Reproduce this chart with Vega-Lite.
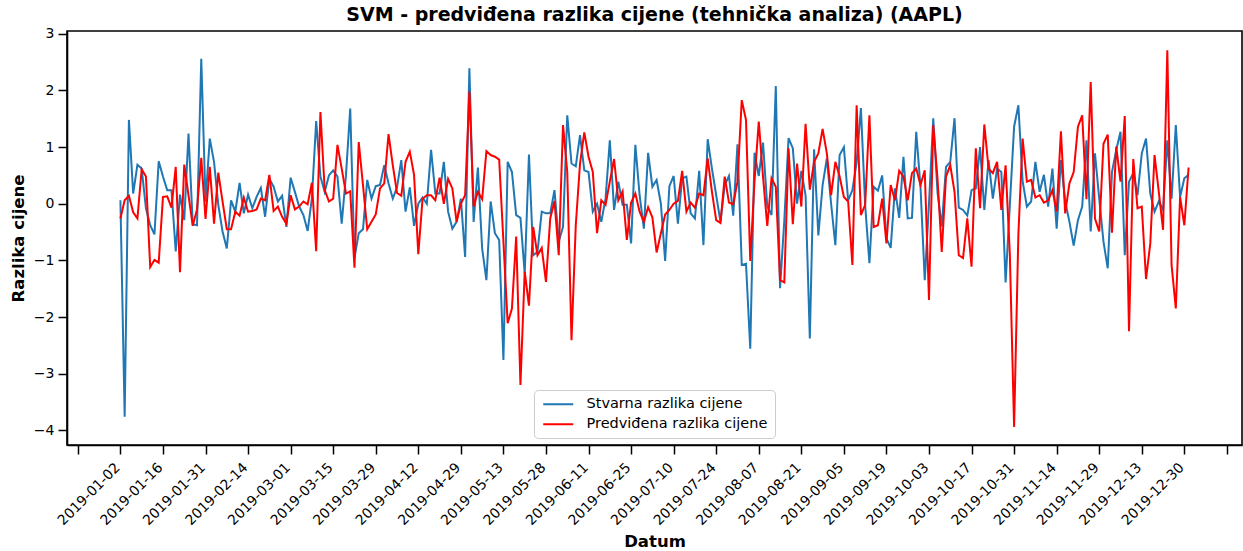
{
"$schema": "https://vega.github.io/schema/vega-lite/v6.json",
"width": 1175, "height": 414,
"autosize": {"type": "none"},
"padding": {"left": 67, "top": 31, "right": 1, "bottom": 106},
"background": "white",
"title": {"text": "SVM - predviđena razlika cijene (tehnička analiza) (AAPL)", "fontSize": 19, "fontWeight": "bold", "font": "DejaVu Sans", "color": "black", "anchor": "middle", "offset": 2},
"config": {
  "view": {"stroke": "black", "strokeWidth": 1.6},
  "axis": {"grid": false, "domainColor": "black", "domainWidth": 1.6, "tickColor": "black", "tickWidth": 1.5, "tickSize": 9, "labelFont": "DejaVu Sans", "labelFontSize": 14, "labelColor": "black", "titleFont": "DejaVu Sans", "titleFontSize": 16.5, "titleFontWeight": "bold", "titleColor": "black", "labelOverlap": false, "labelBound": false, "labelFlush": false}
},
"data": {"values": [
{"i":0,"a":0.06,"p":-0.26},{"i":1,"a":-3.76,"p":0.06},{"i":2,"a":1.48,"p":0.14},{"i":3,"a":0.18,"p":-0.15},{"i":4,"a":0.69,"p":-0.26},{"i":5,"a":0.62,"p":0.61},{"i":6,"a":-0.08,"p":0.48},{"i":7,"a":-0.38,"p":-1.12},{"i":8,"a":-0.54,"p":-0.99},{"i":9,"a":0.75,"p":-1.04},
{"i":10,"a":0.48,"p":0.12},{"i":11,"a":0.24,"p":0.13},{"i":12,"a":0.24,"p":-0.07},{"i":13,"a":-0.84,"p":0.65},{"i":14,"a":0.16,"p":-1.21},{"i":15,"a":-0.29,"p":0.69},{"i":16,"a":1.24,"p":0.15},{"i":17,"a":-0.36,"p":-0.39},{"i":18,"a":-0.38,"p":-0.1},{"i":19,"a":2.56,"p":0.81},
{"i":20,"a":0.04,"p":-0.27},{"i":21,"a":1.15,"p":0.65},{"i":22,"a":0.74,"p":-0.35},{"i":23,"a":-0.02,"p":0.55},{"i":24,"a":-0.49,"p":0.04},{"i":25,"a":-0.79,"p":-0.45},{"i":26,"a":0.06,"p":-0.45},{"i":27,"a":-0.14,"p":-0.14},{"i":28,"a":0.37,"p":-0.21},{"i":29,"a":-0.17,"p":0.11},
{"i":30,"a":0.16,"p":-0.14},{"i":31,"a":-0.08,"p":-0.13},{"i":32,"a":0.12,"p":-0.1},{"i":33,"a":0.28,"p":0.09},{"i":34,"a":-0.23,"p":0.06},{"i":35,"a":0.44,"p":0.51},{"i":36,"a":0.3,"p":-0.13},{"i":37,"a":0.04,"p":-0.05},{"i":38,"a":0.14,"p":-0.23},{"i":39,"a":-0.41,"p":-0.35},
{"i":40,"a":0.46,"p":0.15},{"i":41,"a":0.21,"p":-0.1},{"i":42,"a":-0.05,"p":-0.05},{"i":43,"a":-0.2,"p":0.04},{"i":44,"a":-0.48,"p":-0.01},{"i":45,"a":0.1,"p":0.37},{"i":46,"a":1.46,"p":-0.84},{"i":47,"a":0.48,"p":1.62},{"i":48,"a":0.21,"p":0.24},{"i":49,"a":0.5,"p":0.04},
{"i":50,"a":0.59,"p":0.09},{"i":51,"a":0.48,"p":1.04},{"i":52,"a":-0.35,"p":0.62},{"i":53,"a":0.5,"p":0.18},{"i":54,"a":1.68,"p":0.22},{"i":55,"a":-0.96,"p":-1.13},{"i":56,"a":-0.52,"p":1.09},{"i":57,"a":-0.45,"p":0.33},{"i":58,"a":0.42,"p":-0.45},{"i":59,"a":0.09,"p":-0.32},
{"i":60,"a":0.31,"p":-0.19},{"i":61,"a":0.33,"p":0.27},{"i":62,"a":0.68,"p":0.36},{"i":63,"a":0.36,"p":1.23},{"i":64,"a":0.09,"p":0.68},{"i":65,"a":0.29,"p":0.19},{"i":66,"a":0.77,"p":0.14},{"i":67,"a":-0.14,"p":0.74},{"i":68,"a":0.29,"p":0.92},{"i":69,"a":-0.39,"p":0.51},
{"i":70,"a":0.0,"p":-0.89},{"i":71,"a":0.11,"p":0.09},{"i":72,"a":0.0,"p":0.15},{"i":73,"a":0.95,"p":0.15},{"i":74,"a":0.18,"p":0.06},{"i":75,"a":0.18,"p":0.46},{"i":76,"a":0.74,"p":0.0},{"i":77,"a":-0.14,"p":0.44},{"i":78,"a":-0.44,"p":0.27},{"i":79,"a":-0.32,"p":-0.32},
{"i":80,"a":0.09,"p":0.0},{"i":81,"a":-0.94,"p":0.15},{"i":82,"a":2.39,"p":1.98},{"i":83,"a":-0.32,"p":-0.05},{"i":84,"a":0.64,"p":0.21},{"i":85,"a":-0.79,"p":0.08},{"i":86,"a":-1.35,"p":0.93},{"i":87,"a":0.04,"p":0.86},{"i":88,"a":-0.52,"p":0.83},{"i":89,"a":-0.64,"p":0.78},
{"i":90,"a":-2.76,"p":-0.67},{"i":91,"a":0.74,"p":-2.11},{"i":92,"a":0.56,"p":-1.85},{"i":93,"a":-0.2,"p":-0.58},{"i":94,"a":-0.25,"p":-3.2},{"i":95,"a":-1.23,"p":-1.2},{"i":96,"a":0.87,"p":-1.8},{"i":97,"a":-0.91,"p":-0.41},{"i":98,"a":-0.85,"p":-0.91},{"i":99,"a":-0.14,"p":-0.78},
{"i":100,"a":-0.17,"p":-1.38},{"i":101,"a":-0.17,"p":-0.26},{"i":102,"a":0.24,"p":0.05},{"i":103,"a":-0.67,"p":-0.91},{"i":104,"a":-0.41,"p":1.39},{"i":105,"a":1.56,"p":0.56},{"i":106,"a":0.71,"p":-2.41},{"i":107,"a":0.66,"p":-0.38},{"i":108,"a":1.21,"p":0.71},{"i":109,"a":0.59,"p":1.26},
{"i":110,"a":0.56,"p":0.83},{"i":111,"a":-0.14,"p":0.56},{"i":112,"a":0.0,"p":-0.52},{"i":113,"a":-0.32,"p":0.06},{"i":114,"a":0.09,"p":-0.02},{"i":115,"a":1.12,"p":0.39},{"i":116,"a":-0.11,"p":0.79},{"i":117,"a":0.39,"p":0.06},{"i":118,"a":-0.02,"p":0.22},{"i":119,"a":-0.02,"p":-0.64},
{"i":120,"a":-0.7,"p":0.02},{"i":121,"a":1.04,"p":0.18},{"i":122,"a":0.15,"p":-0.14},{"i":123,"a":-0.44,"p":-0.32},{"i":124,"a":0.9,"p":-0.06},{"i":125,"a":0.3,"p":-0.24},{"i":126,"a":0.42,"p":-0.86},{"i":127,"a":0.0,"p":-0.52},{"i":128,"a":-1.01,"p":-0.19},{"i":129,"a":0.31,"p":-0.11},
{"i":130,"a":0.49,"p":0.0},{"i":131,"a":-0.35,"p":0.05},{"i":132,"a":0.45,"p":0.58},{"i":133,"a":0.48,"p":-0.14},{"i":134,"a":-0.17,"p":0.02},{"i":135,"a":-0.26,"p":-0.07},{"i":136,"a":0.58,"p":0.18},{"i":137,"a":-0.73,"p":0.15},{"i":138,"a":1.14,"p":0.8},{"i":139,"a":0.62,"p":0.21},
{"i":140,"a":0.15,"p":-0.29},{"i":141,"a":-0.32,"p":-0.34},{"i":142,"a":0.33,"p":0.48},{"i":143,"a":0.49,"p":0.02},{"i":144,"a":-0.21,"p":-0.01},{"i":145,"a":1.05,"p":0.39},{"i":146,"a":-1.08,"p":1.83},{"i":147,"a":-1.06,"p":1.48},{"i":148,"a":-2.56,"p":-1.01},{"i":149,"a":0.9,"p":0.4},
{"i":150,"a":0.49,"p":1.45},{"i":151,"a":1.08,"p":0.48},{"i":152,"a":-0.05,"p":-0.39},{"i":153,"a":-0.2,"p":0.45},{"i":154,"a":2.08,"p":0.3},{"i":155,"a":-1.49,"p":-1.35},{"i":156,"a":-0.3,"p":-1.39},{"i":157,"a":1.16,"p":0.98},{"i":158,"a":0.98,"p":-0.36},{"i":159,"a":0.0,"p":0.71},
{"i":160,"a":0.58,"p":-0.05},{"i":161,"a":0.15,"p":1.41},{"i":162,"a":-2.38,"p":0.25},{"i":163,"a":0.96,"p":0.74},{"i":164,"a":-0.56,"p":0.89},{"i":165,"a":0.33,"p":1.32},{"i":166,"a":0.8,"p":0.89},{"i":167,"a":0.0,"p":0.15},{"i":168,"a":-0.73,"p":0.74},{"i":169,"a":0.86,"p":0.48},
{"i":170,"a":1.0,"p":0.12},{"i":171,"a":0.06,"p":0.04},{"i":172,"a":0.24,"p":-1.08},{"i":173,"a":0.73,"p":1.74},{"i":174,"a":1.69,"p":-0.2},{"i":175,"a":-0.02,"p":-0.02},{"i":176,"a":-1.05,"p":1.56},{"i":177,"a":0.3,"p":-0.41},{"i":178,"a":0.23,"p":-0.38},{"i":179,"a":0.5,"p":0.09},
{"i":180,"a":-0.61,"p":-0.7},{"i":181,"a":-0.78,"p":0.33},{"i":182,"a":0.27,"p":0.06},{"i":183,"a":-0.25,"p":0.58},{"i":184,"a":0.83,"p":0.48},{"i":185,"a":-0.26,"p":0.06},{"i":186,"a":-0.25,"p":0.54},{"i":187,"a":1.27,"p":0.62},{"i":188,"a":0.3,"p":0.33},{"i":189,"a":-1.35,"p":0.59},
{"i":190,"a":0.0,"p":-1.7},{"i":191,"a":1.51,"p":1.39},{"i":192,"a":0.2,"p":0.45},{"i":193,"a":-0.4,"p":-0.85},{"i":194,"a":0.65,"p":0.48},{"i":195,"a":0.74,"p":0.68},{"i":196,"a":1.51,"p":0.21},{"i":197,"a":-0.07,"p":-0.91},{"i":198,"a":-0.11,"p":-0.96},{"i":199,"a":-0.21,"p":-0.26},
{"i":200,"a":0.24,"p":-1.11},{"i":201,"a":0.27,"p":0.98},{"i":202,"a":1.0,"p":-0.08},{"i":203,"a":-0.11,"p":1.4},{"i":204,"a":0.77,"p":0.62},{"i":205,"a":0.09,"p":0.54},{"i":206,"a":0.62,"p":0.74},{"i":207,"a":0.56,"p":-0.11},{"i":208,"a":-1.39,"p":0.68},{"i":209,"a":-0.02,"p":-0.9},
{"i":210,"a":1.36,"p":-3.94},{"i":211,"a":1.74,"p":-0.55},{"i":212,"a":0.4,"p":1.15},{"i":213,"a":-0.05,"p":0.39},{"i":214,"a":0.04,"p":0.42},{"i":215,"a":0.74,"p":0.11},{"i":216,"a":0.21,"p":0.15},{"i":217,"a":0.51,"p":0.02},{"i":218,"a":-0.05,"p":0.06},{"i":219,"a":0.62,"p":0.24},
{"i":220,"a":-0.44,"p":-0.14},{"i":221,"a":0.77,"p":1.28},{"i":222,"a":0.04,"p":-0.17},{"i":223,"a":-0.32,"p":0.36},{"i":224,"a":-0.74,"p":0.56},{"i":225,"a":-0.29,"p":1.36},{"i":226,"a":-0.05,"p":1.56},{"i":227,"a":1.12,"p":0.08},{"i":228,"a":-0.49,"p":2.15},{"i":229,"a":0.89,"p":-0.26},
{"i":230,"a":0.09,"p":-0.49},{"i":231,"a":-0.67,"p":1.06},{"i":232,"a":-1.14,"p":1.22},{"i":233,"a":0.56,"p":-0.51},{"i":234,"a":0.95,"p":1.01},{"i":235,"a":1.27,"p":0.39},{"i":236,"a":-0.91,"p":1.55},{"i":237,"a":0.39,"p":-2.25},{"i":238,"a":0.54,"p":0.79},{"i":239,"a":0.15,"p":-0.08},
{"i":240,"a":0.89,"p":-0.05},{"i":241,"a":1.15,"p":-1.33},{"i":242,"a":0.18,"p":-0.7},{"i":243,"a":-0.14,"p":0.86},{"i":244,"a":0.04,"p":0.21},{"i":245,"a":-0.11,"p":-0.46},{"i":246,"a":1.12,"p":2.71},{"i":247,"a":0.09,"p":-1.08},{"i":248,"a":1.39,"p":-1.85},{"i":249,"a":0.12,"p":0.12},
{"i":250,"a":0.45,"p":-0.38},{"i":251,"a":0.51,"p":0.64}
]},
"encoding": {
  "x": {"field": "i", "type": "quantitative", "scale": {"domain": [-12.55, 263.55], "nice": false, "zero": false},
    "axis": {"title": "Datum", "titlePadding": 6, "values": [-10,0,10,20,30,40,50,60,70,80,90,100,110,120,130,140,150,160,170,180,190,200,210,220,230,240,250,260],
      "labelExpr": "['2019-01-02','2019-01-16','2019-01-31','2019-02-14','2019-03-01','2019-03-15','2019-03-29','2019-04-12','2019-04-29','2019-05-13','2019-05-28','2019-06-11','2019-06-25','2019-07-10','2019-07-24','2019-08-07','2019-08-21','2019-09-05','2019-09-19','2019-10-03','2019-10-17','2019-10-31','2019-11-14','2019-11-29','2019-12-13','2019-12-30'][datum.value/10] || ''",
      "labelAngle": -45, "labelAlign": "right", "labelBaseline": "alphabetic", "labelPadding": 14}}
},
"layer": [
  {"mark": {"type": "line", "strokeWidth": 2, "clip": true},
   "encoding": {
     "y": {"field": "a", "type": "quantitative", "scale": {"domain": [-4.26, 3.05], "nice": false, "zero": false},
       "axis": {"title": "Razlika cijene", "titlePadding": 7, "values": [-4,-3,-2,-1,0,1,2,3], "labelPadding": 4, "labelExpr": "replace(format(datum.value,'d'),'-','−')"}},
     "color": {"datum": "Stvarna razlika cijene", "type": "nominal",
       "scale": {"domain": ["Stvarna razlika cijene", "Predviđena razlika cijene"], "range": ["#1f77b4", "#ff0000"]},
       "legend": {"title": null, "orient": "none", "legendX": 467, "legendY": 359, "symbolType": "M-1,0H5", "symbolSize": 100, "symbolStrokeWidth": 2, "symbolFillColor": "transparent", "labelFont": "DejaVu Sans", "labelFontSize": 14.5, "labelColor": "black", "labelOffset": 31, "labelLimit": 400, "rowPadding": 5, "padding": 7, "fillColor": "rgba(255,255,255,0.8)", "strokeColor": "#cccccc", "cornerRadius": 4}}
   }},
  {"mark": {"type": "line", "strokeWidth": 2, "clip": true},
   "encoding": {
     "y": {"field": "p", "type": "quantitative", "scale": {"domain": [-4.26, 3.05], "nice": false, "zero": false},
       "axis": {"title": "Razlika cijene", "titlePadding": 7, "values": [-4,-3,-2,-1,0,1,2,3], "labelPadding": 4, "labelExpr": "replace(format(datum.value,'d'),'-','−')"}},
     "color": {"datum": "Predviđena razlika cijene", "type": "nominal"}
   }}
]
}
